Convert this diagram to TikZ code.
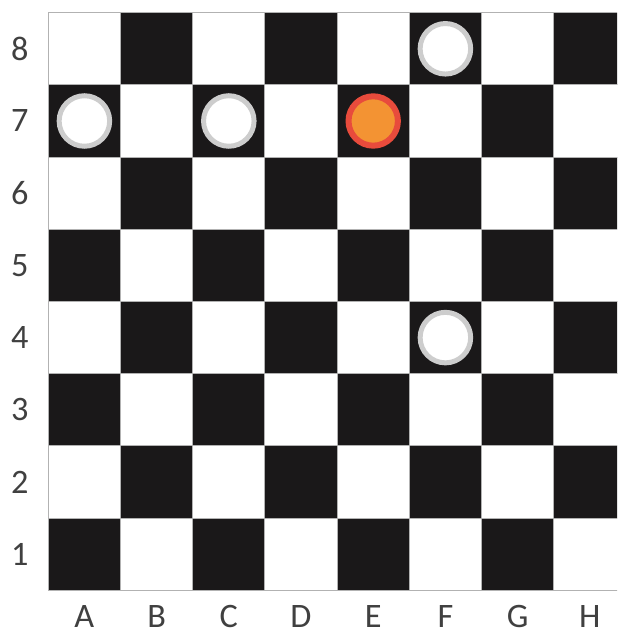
\documentclass[tikz,border=0pt]{standalone}
\usepackage{fontspec}
\setmainfont{Carlito}
\definecolor{boardblack}{HTML}{1A1819}
\definecolor{ringgray}{HTML}{CDCDCD}
\definecolor{ringred}{HTML}{E84B3C}
\definecolor{pieceorange}{HTML}{F39333}
\begin{document}
\begin{tikzpicture}[x=1cm, y=1cm,
    darksq/.style={fill=boardblack, draw=gray!60, line width=0.4pt},
    lightsq/.style={fill=white, draw=gray!60, line width=0.4pt},
    whitepiece/.style={circle, inner sep=0pt, minimum size=0.70cm, fill=white, draw=ringgray, line width=0.069cm},
    orangepiece/.style={circle, inner sep=0pt, minimum size=0.684cm, fill=pieceorange, draw=ringred, line width=0.083cm},
    boardlabel/.style={text=black!75, inner sep=0pt, font=\fontsize{13.5pt}{16pt}\selectfont}]
    \clip (-0.669,-0.536) rectangle (7.877,8.176);
    % Squares
    \foreach \c in {1,...,8}
        \foreach \r in {1,...,8} {
            \pgfmathtruncatemacro\parity{mod(\c+\r,2)}
            \ifnum\parity=0
                \draw[darksq] (\c-1,\r-1) rectangle (\c,\r);
            \else
                \draw[lightsq] (\c-1,\r-1) rectangle (\c,\r);
            \fi
        }
    % Labels
    \foreach \r in {1,...,8}
        \node (row\r) [boardlabel] at (-0.396,\r-0.5) {\r};
    \foreach \l [count=\c] in {A,B,C,D,E,F,G,H}
        \node (col\l) [boardlabel] at (\c-0.5,-0.36) {\l};
    % Pieces
    \node (pieceA7) [whitepiece] at (0.5,6.5) {};
    \node (pieceC7) [whitepiece] at (2.5,6.5) {};
    \node (pieceE7) [orangepiece] at (4.5,6.5) {};
    \node (pieceF8) [whitepiece] at (5.5,7.5) {};
    \node (pieceF4) [whitepiece] at (5.5,3.5) {};
\end{tikzpicture}
\end{document}
